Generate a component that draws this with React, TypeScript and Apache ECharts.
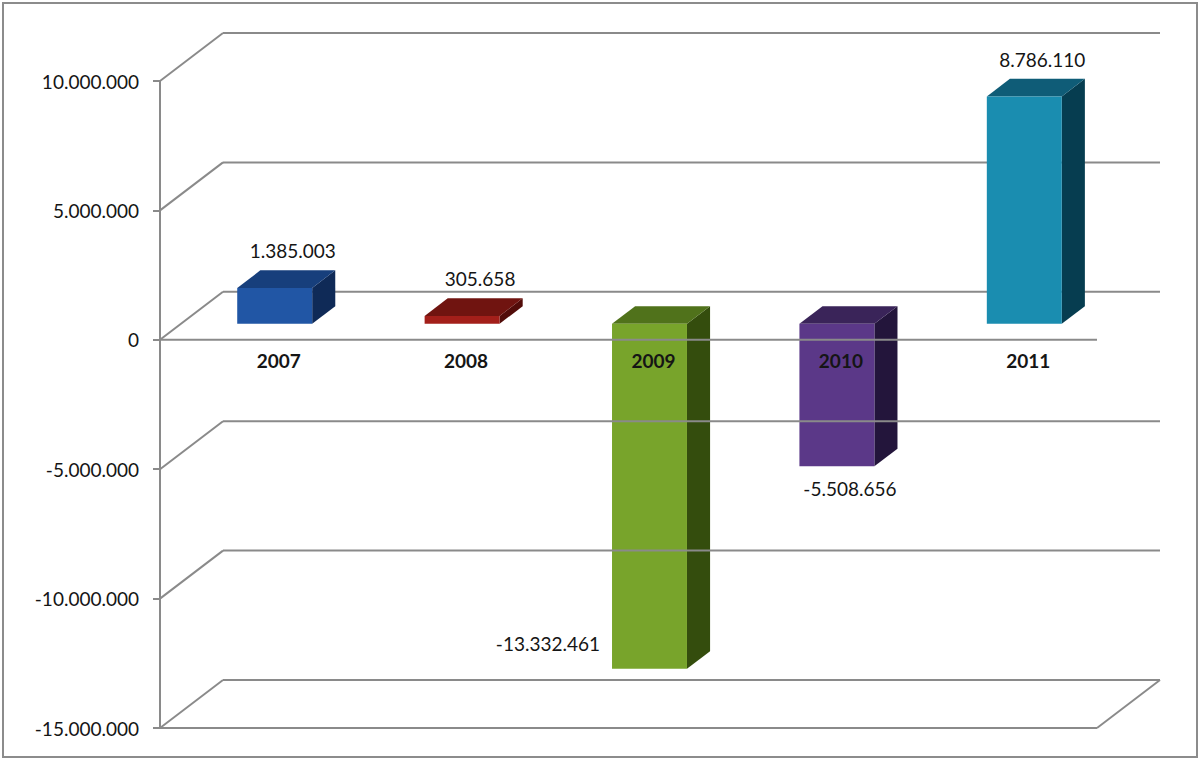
import React, { useEffect, useRef } from "react";
import * as echarts from "echarts";

// ---- data ----
const categories = ["2007", "2008", "2009", "2010", "2011"];
const values = [1385003, 305658, -13332461, -5508656, 8786110];
const yMin = -15000000;
const yMax = 10000000;
const yStep = 5000000;
const yTicks = [-15000000, -10000000, -5000000, 0, 5000000, 10000000];

// ---- style / layout config ----
const labelPlacement = ["top", "top", "left", "bottom", "top"];
const faceColors = [
  { front: "#2156a5", top: "#173f7c", side: "#0f2a57" },
  { front: "#a31f1a", top: "#701410", side: "#520c09" },
  { front: "#78a42b", top: "#50721b", side: "#344d0d" },
  { front: "#5b3888", top: "#3a2459", side: "#23153b" },
  { front: "#1a8db0", top: "#0f5c77", side: "#063d50" },
];
const WALL_DX = 63;
const WALL_DY = -48;
const BAR_D0 = 1 / 3;
const BAR_D1 = 0.7;
const BAR_W = 0.4;
const LINE = "#8a8a8a";
const LW = 2;
const FONT = "Lato, 'Open Sans', sans-serif";
const TXT = "#151515";

function fmt(n: number): string {
  const s = Math.abs(Math.round(n))
    .toString()
    .replace(/\B(?=(\d{3})+(?!\d))/g, ".");
  return (n < 0 ? "-" : "") + s;
}

function lineEl(x1: number, y1: number, x2: number, y2: number) {
  return {
    type: "line",
    shape: { x1, y1, x2, y2 },
    style: { stroke: LINE, lineWidth: LW },
  };
}

export default function App() {
  const ref = useRef<HTMLDivElement>(null);

  useEffect(() => {
    if (!ref.current) return;
    const chart = echarts.init(ref.current, undefined, { renderer: "svg" });

    const tickData = yTicks.map((t) => [0, t]);
    const barData = values.map((v, i) => [i, v]);

    const gridBack = (params: any, api: any) => {
      const t = api.value(1);
      const cs = params.coordSys;
      const p = api.coord([0, t]);
      const y = p[1];
      const children: any[] = [];
      if (t >= 0) {
        children.push(lineEl(cs.x + WALL_DX, y + WALL_DY, cs.x + cs.width + WALL_DX, y + WALL_DY));
        children.push(lineEl(cs.x, y, cs.x + WALL_DX, y + WALL_DY));
      }
      return { type: "group", children };
    };

    const gridFront = (params: any, api: any) => {
      const t = api.value(1);
      const cs = params.coordSys;
      const p = api.coord([0, t]);
      const y = p[1];
      const children: any[] = [];
      if (t < 0) {
        children.push(lineEl(cs.x + WALL_DX, y + WALL_DY, cs.x + cs.width + WALL_DX, y + WALL_DY));
        children.push(lineEl(cs.x, y, cs.x + WALL_DX, y + WALL_DY));
      }
      if (t === 0) {
        children.push(lineEl(cs.x, y, cs.x + cs.width, y));
      }
      if (t === yMin) {
        children.push(lineEl(cs.x, y, cs.x + cs.width, y));
        children.push(lineEl(cs.x + cs.width, y, cs.x + cs.width + WALL_DX, y + WALL_DY));
      }
      return { type: "group", children };
    };

    const barGeom = (api: any, i: number, v: number) => {
      const base = api.coord([i, 0]);
      const tip = api.coord([i, v]);
      const bw = api.size([1, 0])[0];
      const cx = base[0] + WALL_DX * BAR_D0;
      const half = (bw * BAR_W) / 2;
      const yb = base[1] + WALL_DY * BAR_D0;
      const yt = tip[1] + WALL_DY * BAR_D0;
      return {
        cx,
        xl: cx - half,
        xr: cx + half,
        top: Math.min(yb, yt),
        bottom: Math.max(yb, yt),
        ddx: WALL_DX * (BAR_D1 - BAR_D0),
        ddy: WALL_DY * (BAR_D1 - BAR_D0),
        zeroY: base[1],
      };
    };

    const bars = (params: any, api: any) => {
      const i = params.dataIndex;
      const v = api.value(1);
      const g = barGeom(api, i, v);
      const c = faceColors[i % faceColors.length];
      return {
        type: "group",
        children: [
          {
            type: "polygon",
            shape: {
              points: [
                [g.xr, g.top],
                [g.xr + g.ddx, g.top + g.ddy],
                [g.xr + g.ddx, g.bottom + g.ddy],
                [g.xr, g.bottom],
              ],
            },
            style: { fill: c.side },
          },
          {
            type: "polygon",
            shape: {
              points: [
                [g.xl, g.top],
                [g.xl + g.ddx, g.top + g.ddy],
                [g.xr + g.ddx, g.top + g.ddy],
                [g.xr, g.top],
              ],
            },
            style: { fill: c.top },
          },
          {
            type: "rect",
            shape: { x: g.xl, y: g.top, width: g.xr - g.xl, height: g.bottom - g.top },
            style: { fill: c.front },
          },
        ],
      };
    };

    const labels = (params: any, api: any) => {
      const i = params.dataIndex;
      const v = api.value(1);
      const g = barGeom(api, i, v);
      const place = labelPlacement[i];
      let vx = g.cx + 18;
      let vy = g.top + g.ddy - 10;
      let align = "center";
      let vAlign = "bottom";
      if (place === "bottom") {
        vx = g.cx + 13;
        vy = g.bottom + 13;
        vAlign = "top";
      } else if (place === "left") {
        vx = g.xl - 12;
        vy = g.bottom - 25;
        align = "right";
        vAlign = "middle";
      }
      return {
        type: "group",
        children: [
          {
            type: "text",
            x: g.cx + 4,
            y: g.zeroY + 21,
            style: {
              text: categories[i],
              fill: TXT,
              fontSize: 19,
              fontWeight: "bold",
              fontFamily: FONT,
              align: "center",
              verticalAlign: "middle",
            },
          },
          {
            type: "text",
            x: vx,
            y: vy,
            style: {
              text: fmt(v),
              fill: TXT,
              fontSize: 19,
              fontFamily: FONT,
              align,
              verticalAlign: vAlign,
            },
          },
        ],
      };
    };

    chart.setOption({
      animation: false,
      backgroundColor: "#ffffff",
      grid: { left: 160, right: 103, top: 81, bottom: 32, containLabel: false },
      xAxis: {
        type: "category",
        data: categories,
        axisLine: { show: false },
        axisTick: { show: false },
        axisLabel: { show: false },
        splitLine: { show: false },
      },
      yAxis: {
        type: "value",
        min: yMin,
        max: yMax,
        interval: yStep,
        axisLine: { show: true, lineStyle: { color: LINE, width: LW } },
        axisTick: { show: true, length: 7, lineStyle: { color: LINE, width: LW } },
        axisLabel: {
          margin: 21,
          color: TXT,
          fontSize: 19,
          fontFamily: FONT,
          formatter: (val: number) => fmt(val),
        },
        splitLine: { show: false },
      },
      graphic: [
        {
          type: "rect",
          shape: { x: 3, y: 3, width: 1194, height: 754 },
          style: { fill: "none", stroke: "#8c8c8c", lineWidth: 2 },
          silent: true,
        },
      ],
      series: [
        { type: "custom", name: "gridBack", z: 1, clip: false, data: tickData, renderItem: gridBack, silent: true },
        { type: "custom", name: "bars", z: 2, clip: false, data: barData, renderItem: bars, silent: true },
        { type: "custom", name: "gridFront", z: 3, clip: false, data: tickData, renderItem: gridFront, silent: true },
        { type: "custom", name: "labels", z: 4, clip: false, data: barData, renderItem: labels, silent: true },
      ],
    });

    return () => chart.dispose();
  }, []);

  return (
    <div
      ref={ref}
      style={{ position: "absolute", left: 0, top: 0, width: 1200, height: 760 }}
    />
  );
}
